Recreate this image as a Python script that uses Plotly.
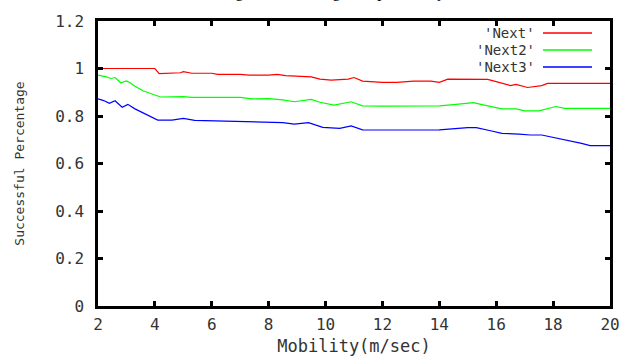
import plotly.graph_objects as go

# ---- data ----
next_x = [2, 4.0, 4.15, 4.4, 4.9, 5.0, 5.3, 6.0, 6.2, 7.0, 7.3, 8.0, 8.3, 8.6, 9.0, 9.5, 9.8,
          10.2, 10.8, 11.0, 11.3, 12.0, 12.5, 12.9, 13.1, 13.7, 14.0, 14.3, 15.0, 15.7, 15.9,
          16.3, 16.5, 16.7, 17.1, 17.6, 17.8, 20]
next_y = [1.0, 1.0, 0.978, 0.98, 0.982, 0.987, 0.98, 0.98, 0.975, 0.975, 0.972, 0.972, 0.975,
          0.97, 0.968, 0.965, 0.955, 0.951, 0.955, 0.962, 0.947, 0.942, 0.942, 0.945, 0.947,
          0.947, 0.942, 0.955, 0.954, 0.954, 0.948, 0.935, 0.928, 0.933, 0.92, 0.928, 0.937, 0.937]

next2_x = [2, 2.3, 2.45, 2.6, 2.8, 3.0, 3.1, 3.3, 3.6, 4.0, 4.2, 5.0, 5.3, 7.0, 7.4, 8.0, 8.5,
           8.9, 9.3, 9.5, 9.8, 10.3, 10.9, 11.3, 12.0, 13.0, 14.0, 14.5, 15.2, 15.5, 16.2, 16.7,
           17.0, 17.5, 17.8, 18.1, 18.4, 20]
next2_y = [0.972, 0.965, 0.958, 0.962, 0.94, 0.948, 0.942, 0.925, 0.905, 0.89, 0.88, 0.882,
           0.878, 0.878, 0.872, 0.873, 0.868, 0.86, 0.865, 0.87, 0.858, 0.846, 0.86, 0.843,
           0.842, 0.842, 0.843, 0.848, 0.856, 0.848, 0.83, 0.83, 0.822, 0.822, 0.83, 0.84,
           0.832, 0.832]

next3_x = [2, 2.2, 2.4, 2.6, 2.85, 3.05, 3.3, 3.7, 4.1, 4.6, 5.0, 5.4, 6.0, 7.0, 7.5, 8.0, 8.5,
           8.9, 9.4, 9.9, 10.5, 10.9, 11.3, 12.0, 13.0, 14.0, 15.0, 15.3, 15.8, 16.2, 16.8,
           17.2, 17.6, 18.35, 19.0, 19.3, 20]
next3_y = [0.872, 0.865, 0.853, 0.864, 0.837, 0.849, 0.83, 0.805, 0.783, 0.783, 0.79, 0.782,
           0.78, 0.778, 0.778, 0.776, 0.772, 0.766, 0.772, 0.752, 0.748, 0.758, 0.742, 0.741,
           0.742, 0.742, 0.751, 0.751, 0.738, 0.727, 0.724, 0.72, 0.72, 0.702, 0.685, 0.675,
           0.675]

series_names = ["'Next'", "'Next2'", "'Next3'"]
series_colors = ["#ff0000", "#00ff00", "#0000ff"]
x_ticks = [2, 4, 6, 8, 10, 12, 14, 16, 18, 20]
y_ticks = [0, 0.2, 0.4, 0.6, 0.8, 1.0, 1.2]
y_tick_labels = ["0", "0.2", "0.4", "0.6", "0.8", "1", "1.2"]
caption = "Routing Success Using Group Mobility"

MONO = "DejaVu Sans Mono"
TXT = "#333"

fig = go.Figure()
for xs, ys, name, col in zip([next_x, next2_x, next3_x], [next_y, next2_y, next3_y],
                             series_names, series_colors):
    fig.add_trace(go.Scatter(x=xs, y=ys, mode="lines", name=name,
                             line=dict(color=col, width=1.2), showlegend=False))

# custom gnuplot-style key: text on the left, line sample on the right
W, H = 626, 356
ml, mr, mt, mb = 98, 16, 21, 50
pw, ph = W - ml - mr, H - mt - mb

def px2paper_x(px):
    return (px - ml) / pw

def px2paper_y(py):
    return (H - mb - py) / ph

key_rows = [33, 50, 67]
for name, col, ry in zip(series_names, series_colors, key_rows):
    fig.add_annotation(xref="paper", yref="paper", x=px2paper_x(536), y=px2paper_y(ry),
                       text=name, showarrow=False, xanchor="right", yanchor="middle",
                       borderpad=0,
                       font=dict(family=MONO, size=14, color=TXT))
    fig.add_shape(type="line", xref="paper", yref="paper",
                  x0=px2paper_x(543), x1=px2paper_x(592),
                  y0=px2paper_y(ry), y1=px2paper_y(ry),
                  line=dict(color=col, width=1.3))

# cropped caption line at the very top of the picture
fig.add_annotation(xref="paper", yref="paper", x=px2paper_x(318), y=px2paper_y(2),
                   text=caption, showarrow=False, xanchor="center", yanchor="bottom",
                   borderpad=0, font=dict(family="Liberation Serif", size=16, color="#000"))

axis_common = dict(showline=True, linecolor="black", linewidth=2.5, mirror="ticks",
                   ticks="inside", ticklen=5, tickwidth=2.5, tickcolor="black",
                   showgrid=False, zeroline=False,
                   tickfont=dict(family=MONO, size=16, color=TXT))

fig.update_xaxes(range=[2, 20], tickvals=x_ticks, ticktext=[str(v) for v in x_ticks],
                 title=dict(text="Mobility(m/sec)", font=dict(family=MONO, size=17, color=TXT),
                            standoff=10),
                 ticklabelstandoff=2, **axis_common)
fig.update_yaxes(range=[0, 1.2], tickvals=y_ticks, ticktext=y_tick_labels,
                 title=dict(text="Successful Percentage", font=dict(family=MONO, size=13, color=TXT),
                            standoff=28),
                 ticklabelstandoff=8, **axis_common)

fig.update_layout(width=W, height=H, margin=dict(l=ml, r=mr, t=mt, b=mb, autoexpand=False),
                  paper_bgcolor="white", plot_bgcolor="white")

fig.write_html("out.html")
